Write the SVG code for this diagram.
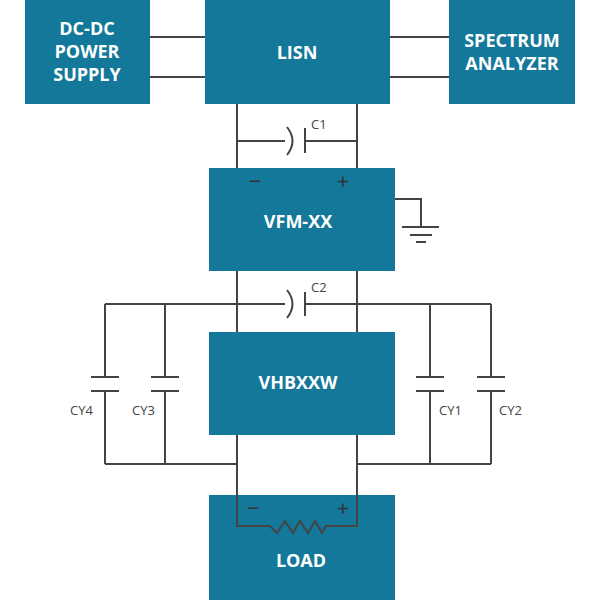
<svg xmlns="http://www.w3.org/2000/svg" width="600" height="600" viewBox="0 0 600 600">
<style>
.box{fill:#137899}
.t{font-family:"Open Sans",sans-serif;font-weight:bold;font-size:18px;fill:#fff;text-anchor:middle}
.l{font-family:"Open Sans",sans-serif;font-size:13px;fill:#444}
.s{font-family:"Open Sans",sans-serif;font-size:22px;fill:#333;text-anchor:middle}
.w{fill:none;stroke:#444;stroke-width:2}
</style>
<rect width="600" height="600" fill="#fff"/>
<g id="dcdc"><rect class="box" x="25" y="0" width="125" height="104"/><text class="t" x="87" y="35">DC-DC</text><text class="t" x="87" y="58">POWER</text><text class="t" x="87" y="81">SUPPLY</text></g>
<g id="lisn"><rect class="box" x="205" y="0" width="185" height="104"/><text class="t" x="297" y="59">LISN</text></g>
<g id="spectrum"><rect class="box" x="449" y="0" width="126" height="104"/><text class="t" x="512" y="47">SPECTRUM</text><text class="t" x="512" y="70">ANALYZER</text></g>
<g id="vfm"><rect class="box" x="209" y="168" width="186" height="103"/><text class="t" x="298" y="228">VFM-XX</text><text class="s" x="255" y="189">−</text><text class="s" x="343" y="189">+</text></g>
<g id="vhb"><rect class="box" x="209" y="332" width="186" height="103"/><text class="t" x="298" y="389">VHBXXW</text></g>
<g id="load"><rect class="box" x="209" y="495" width="186" height="105"/><text class="t" x="301" y="567">LOAD</text><text class="s" x="253" y="516">−</text><text class="s" x="343" y="516">+</text></g>
<g id="connectors" class="w">
<path d="M150 37H205M150 77H205M390 37H449M390 77H449"/>
<path d="M237 104V168M357 104V168M237 141H285M305 141H357M305 128V153M287 127Q298 141 287 155"/>
<path d="M395 199H421V227M402 227H439M410 235H432M416 242H426"/>
<path d="M237 271V332M357 271V332M105 304H285M305 304H491M305 292V316M287 290Q298 304 287 318"/>
<path d="M105 304V377M105 391V464M91 377H119M91 391H119M165 304V377M165 391V464M151 377H179M151 391H179"/>
<path d="M430 304V377M430 391V464M416 377H444M416 391H444M491 304V377M491 391V464M477 377H505M477 391H505"/>
<path d="M105 464H237M357 464H491"/>
<path d="M237 435V526H270L277 533L285 521L293 533L300 521L308 533L315 521L322 533L326 526H357V435"/>
</g>
<g id="labels">
<text class="l" x="311" y="129">C1</text><text class="l" x="311" y="292">C2</text>
<text class="l" x="70" y="415">CY4</text><text class="l" x="132" y="415">CY3</text>
<text class="l" x="439" y="415">CY1</text><text class="l" x="499" y="415">CY2</text>
</g>
</svg>
